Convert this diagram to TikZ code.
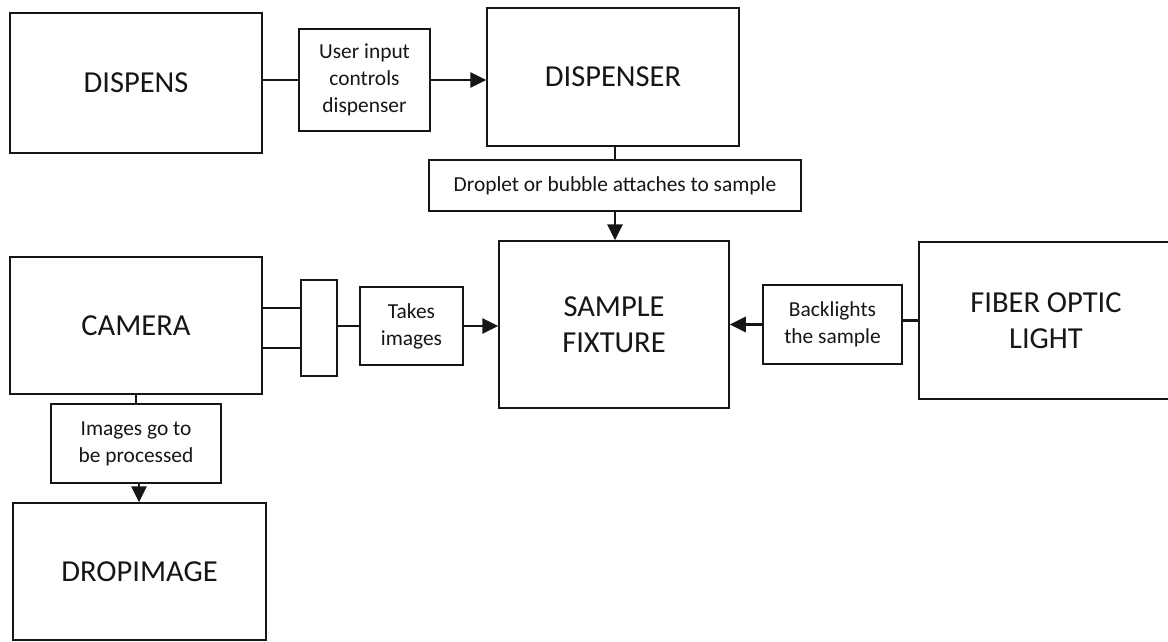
\documentclass[tikz,border=0pt]{standalone}
\usepackage{fontspec}
\setmainfont{Carlito}
\usetikzlibrary{arrows.meta,calc}
\definecolor{ink}{HTML}{161616}
\begin{document}
\begin{tikzpicture}[x=1pt,y=-1pt,
  box/.style={draw=ink,line width=1.5pt,rectangle,inner sep=0pt,align=center,text=ink},
  bigbox/.style={box,font=\fontsize{30.5}{36}\selectfont},
  notebox/.style={box,font=\fontsize{21.4}{27}\selectfont},
  link/.style={draw=ink,line width=2.7pt},
  thinlink/.style={draw=ink,line width=1.5pt},
  flow/.style={link,-{Triangle[length=16pt,width=15pt]}}]
\useasboundingbox[fill=white] (0,0) rectangle (1168,641);

% main blocks
\node[bigbox,minimum width=252pt,minimum height=140pt] (dispens)   at (136,83)    {DISPENS};
\node[bigbox,minimum width=252pt,minimum height=138pt] (dispenser) at (613,77)    {DISPENSER};
\node[bigbox,minimum width=230pt,minimum height=167pt] (sample)    at (614,324.5) {SAMPLE\\FIXTURE};
\node[bigbox,minimum width=254pt,minimum height=157pt] (fiber)     at (1046,320.5){FIBER OPTIC\\LIGHT};
\node[bigbox,minimum width=252pt,minimum height=137pt] (camera)    at (136,325.5) {CAMERA};
\node[bigbox,minimum width=253pt,minimum height=137pt] (dropimage) at (139.5,571.5){DROPIMAGE};

% lens attached to the camera
\node[box,minimum width=36pt,minimum height=96pt] (lens) at (319,328) {};

% labelled steps
\node[notebox,minimum width=131pt,minimum height=102pt] (userin)    at (364.5,80)   {User input\\controls\\dispenser};
\node[notebox,minimum width=372pt,minimum height=51pt]  (droplet)   at (615,185.5)  {Droplet or bubble attaches to sample};
\node[notebox,minimum width=139pt,minimum height=79pt]  (backlight) at (832.5,324.5){Backlights\\the sample};
\node[notebox,minimum width=103pt,minimum height=78pt]  (takes)     at (411.5,326)  {Takes\\images};
\node[notebox,minimum width=170pt,minimum height=79pt]  (images)    at (136,443.5)  {Images go to\\be processed};

% connectors
\draw[link] (dispens.east |- userin.west) -- (userin.west);
\draw[flow] (userin.east) -- (userin.east -| dispenser.west);

\draw[link] (dispenser.south -| droplet.north) -- (droplet.north);
\draw[flow] (droplet.south) -- (droplet.south |- sample.north);

\draw[link] (fiber.west) -- (fiber.west -| backlight.east);
\draw[flow] (backlight.west) -- (backlight.west -| sample.east);

\coordinate (camtop) at ([yshift=17.5pt]camera.east);
\coordinate (cambot) at ([yshift=-22.5pt]camera.east);
\draw[thinlink] (camtop) -- (camtop -| lens.west);
\draw[thinlink] (cambot) -- (cambot -| lens.west);
\draw[link] (lens.east |- takes.west) -- (takes.west);
\draw[flow] (takes.east) -- (takes.east -| sample.west);

\draw[thinlink,line width=1.9pt] (camera.south) -- (camera.south |- images.north);
\draw[flow] ([xshift=3pt]images.south) -- ([xshift=3pt]images.south |- dropimage.north);
\end{tikzpicture}
\end{document}
